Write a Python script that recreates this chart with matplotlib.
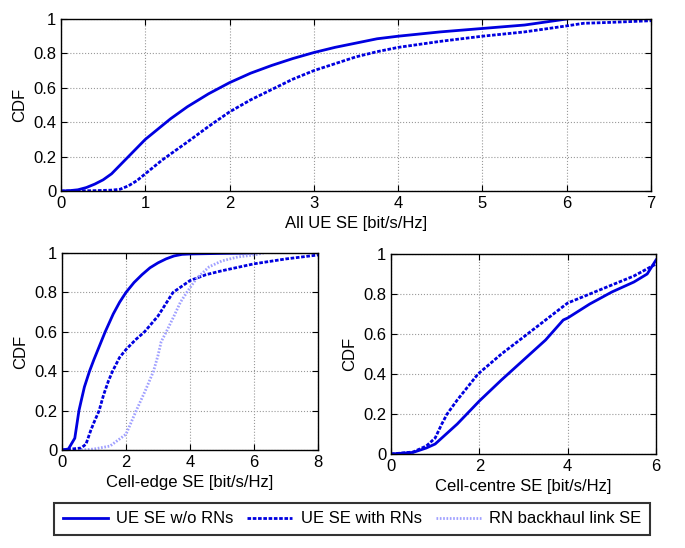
import numpy as np
import matplotlib
matplotlib.use("Agg")
import matplotlib.pyplot as plt

plt.rcParams["font.family"] = ["Liberation Sans", "DejaVu Sans"]

# ----------------------------
# Data
# ----------------------------

all_x_wo = [0, 0.1, 0.2, 0.3, 0.4, 0.5, 0.6, 0.7, 0.8, 0.9, 1.0, 1.1, 1.2, 1.3, 1.4, 1.5,
            1.75, 2.0, 2.25, 2.5, 2.75, 3.0, 3.25, 3.5, 3.75, 4.0, 4.5, 5.0, 5.5, 6.0]
all_y_wo = [0, 0.002, 0.007, 0.02, 0.04, 0.065, 0.10, 0.15, 0.20, 0.25, 0.30, 0.34, 0.38, 0.42,
            0.455, 0.49, 0.565, 0.63, 0.685, 0.73, 0.77, 0.805, 0.835, 0.86, 0.885, 0.90,
            0.925, 0.945, 0.965, 1.0]
all_x_rn = [0, 0.4, 0.6, 0.7, 0.8, 0.9, 1.0, 1.1, 1.2, 1.3, 1.4, 1.5, 1.75, 2.0, 2.25, 2.5,
            2.75, 3.0, 3.25, 3.5, 3.75, 4.0, 4.5, 5.0, 5.5, 6.0, 6.2, 6.5, 7.0]
all_y_rn = [0, 0.002, 0.005, 0.01, 0.03, 0.06, 0.10, 0.14, 0.18, 0.215, 0.25, 0.285, 0.375,
            0.46, 0.53, 0.59, 0.65, 0.70, 0.74, 0.78, 0.81, 0.835, 0.87, 0.90, 0.925, 0.96,
            0.975, 0.98, 0.99]

edge_x_wo = [0, 0.2, 0.4, 0.53, 0.6, 0.7, 0.86, 1.0, 1.2, 1.35, 1.6, 1.8, 2.0, 2.25, 2.5,
             2.75, 3.0, 3.25, 3.5, 3.75, 4.0, 5.0, 6.0]
edge_y_wo = [0, 0.005, 0.06, 0.2, 0.25, 0.32, 0.40, 0.46, 0.54, 0.60, 0.69, 0.75, 0.80, 0.85,
             0.89, 0.925, 0.95, 0.97, 0.985, 0.993, 0.995, 0.998, 1.0]
edge_x_rn = [0, 0.6, 0.75, 0.9, 1.0, 1.16, 1.3, 1.45, 1.58, 1.8, 2.0, 2.3, 2.58, 3.0, 3.47,
             4.0, 4.5, 5.0, 6.0, 7.0, 8.0]
edge_y_rn = [0, 0.01, 0.03, 0.10, 0.14, 0.20, 0.28, 0.35, 0.40, 0.47, 0.51, 0.56, 0.60, 0.68,
             0.80, 0.86, 0.89, 0.91, 0.945, 0.97, 0.99]
edge_x_bh = [0.6, 1.0, 1.5, 2.0, 2.32, 2.6, 2.86, 3.0, 3.1, 3.26, 3.5, 3.7, 3.9, 4.2, 4.6,
             5.0, 5.5, 6.0, 6.3]
edge_y_bh = [0, 0.005, 0.02, 0.08, 0.20, 0.30, 0.40, 0.48, 0.55, 0.60, 0.68, 0.75, 0.80,
             0.87, 0.93, 0.96, 0.98, 0.99, 1.0]

centre_x_wo = [0, 0.5, 0.8, 1.0, 1.5, 2.0, 2.5, 3.0, 3.5, 3.9, 4.0, 4.5, 5.0, 5.5, 5.8, 6.0]
centre_y_wo = [0, 0.008, 0.03, 0.05, 0.15, 0.265, 0.37, 0.47, 0.57, 0.67, 0.68, 0.75, 0.81,
               0.86, 0.90, 0.97]
centre_x_rn = [0, 0.5, 0.8, 1.0, 1.15, 1.27, 1.5, 1.97, 2.5, 3.09, 3.5, 4.0, 4.5, 5.0, 5.5, 6.0]
centre_y_rn = [0, 0.01, 0.04, 0.08, 0.15, 0.20, 0.27, 0.40, 0.50, 0.60, 0.67, 0.755, 0.80,
               0.845, 0.89, 0.95]

legend_labels = ["UE SE w/o RNs", "UE SE with RNs", "RN backhaul link SE"]

# ----------------------------
# Styles
# ----------------------------

blue = "#0000e0"
light = "#a0a0ff"
lw = 2.0
dash = (1.3, 0.6)
dot = (0.6, 0.6)

fig = plt.figure(figsize=(6.85, 5.48), dpi=100)

ax_top = fig.add_axes([61 / 685, 1 - 191 / 548, 590 / 685, 172 / 548])
ax_bl = fig.add_axes([62 / 685, 1 - 450 / 548, 256 / 685, 197 / 548])
ax_br = fig.add_axes([391 / 685, 1 - 454 / 548, 265 / 685, 200 / 548])


def style(ax, xmax, xticks, xlabel):
    ax.set_xlim(0, xmax)
    ax.set_ylim(0, 1)
    ax.set_xticks(xticks)
    ax.set_yticks([0, 0.2, 0.4, 0.6, 0.8, 1])
    ax.set_yticklabels(["0", "0.2", "0.4", "0.6", "0.8", "1"])
    ax.grid(True, linestyle=":", color="#999999", linewidth=0.8)
    ax.tick_params(direction="in", labelsize=12, length=4, top=True, right=True)
    ax.set_xlabel(xlabel, fontsize=12, labelpad=4)
    ax.set_ylabel("CDF", fontsize=12)
    for s in ax.spines.values():
        s.set_linewidth(1.0)


# ----------------------------
# Top: all UEs
# ----------------------------

ax_top.plot(all_x_wo, all_y_wo, "-", color=blue, lw=lw)
ax_top.plot(all_x_rn, all_y_rn, "--", color=blue, lw=lw, dashes=dash)
style(ax_top, 7, range(0, 8), "All UE SE [bit/s/Hz]")

# ----------------------------
# Bottom left: cell edge
# ----------------------------

l1, = ax_bl.plot(edge_x_wo, edge_y_wo, "-", color=blue, lw=lw)
l2, = ax_bl.plot(edge_x_rn, edge_y_rn, "--", color=blue, lw=lw, dashes=dash)
l3, = ax_bl.plot(edge_x_bh, edge_y_bh, "--", color=light, lw=lw, dashes=dot)
style(ax_bl, 8, [0, 2, 4, 6, 8], "Cell-edge SE [bit/s/Hz]")

# ----------------------------
# Bottom right: cell centre
# ----------------------------

ax_br.plot(centre_x_wo, centre_y_wo, "-", color=blue, lw=lw)
ax_br.plot(centre_x_rn, centre_y_rn, "--", color=blue, lw=lw, dashes=dash)
style(ax_br, 6, [0, 2, 4, 6], "Cell-centre SE [bit/s/Hz]")

leg = fig.legend([l1, l2, l3], legend_labels, loc="center", ncol=3,
                 bbox_to_anchor=(352 / 685, 0.053), fontsize=12, frameon=True,
                 fancybox=False, handlelength=2.7, columnspacing=0.85,
                 handletextpad=0.5, borderpad=0.5)
leg.get_frame().set_edgecolor("black")
leg.get_frame().set_linewidth(1.5)

plt.savefig("out.png", dpi=100)
plt.close("all")
